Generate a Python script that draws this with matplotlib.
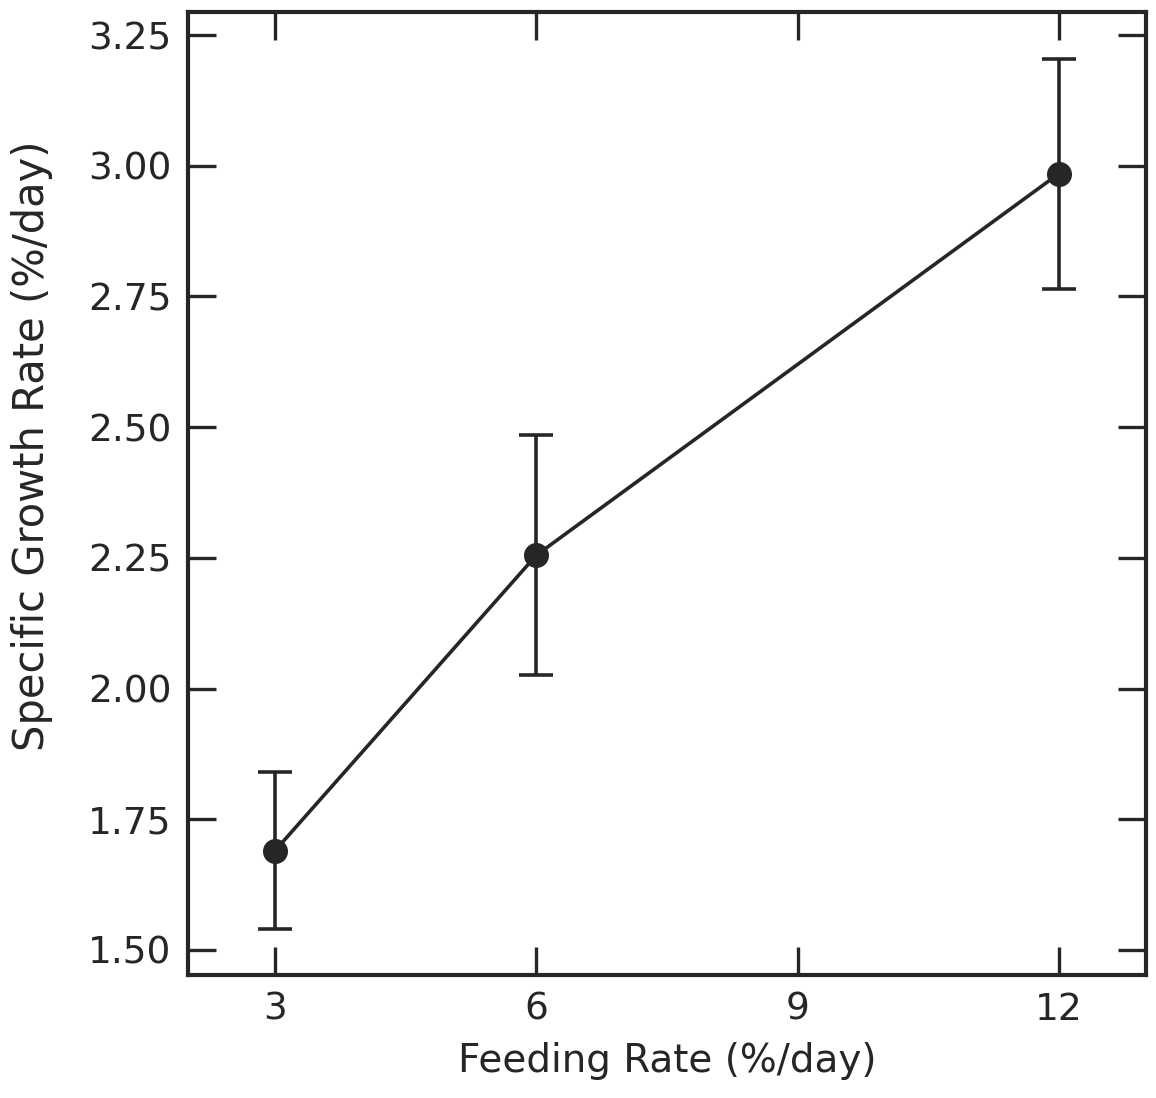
import matplotlib
matplotlib.use("Agg")
import matplotlib.pyplot as plt

# Daten
feeding_rate = [3, 6, 12]
growth_rate = [1.69, 2.255, 2.985]
growth_err = [0.15, 0.23, 0.22]
y_ticks = [1.50, 1.75, 2.00, 2.25, 2.50, 2.75, 3.00, 3.25]
x_ticks = [3, 6, 9, 12]

ink = "#262626"

fig = plt.figure(figsize=(11.56, 10.98), dpi=100)
ax = fig.add_axes([0.1626, 0.112, 0.8287, 0.877])

ax.errorbar(feeding_rate, growth_rate, yerr=growth_err, color=ink,
            marker="o", markersize=17, linewidth=2.6, elinewidth=2.6,
            capsize=12, capthick=2.6)

ax.set_xlim(2, 13)
ax.set_ylim(1.452, 3.294)
ax.set_xticks(x_ticks)
ax.set_yticks(y_ticks)
ax.set_yticklabels(["{:.2f}".format(v) for v in y_ticks])

ax.tick_params(direction="in", length=20, width=2.4, color=ink,
               labelsize=27, labelcolor=ink, top=True, right=True, pad=12)
for sp in ax.spines.values():
    sp.set_linewidth(3)
    sp.set_color(ink)

ax.set_xlabel("Feeding Rate (%/day)", fontsize=28, color=ink)
ax.set_ylabel("Specific Growth Rate (%/day)", fontsize=30, color=ink)
ax.xaxis.set_label_coords(0.5, -0.07)
ax.yaxis.set_label_coords(-0.141, 0.55)

fig.savefig("out.png", dpi=100)
